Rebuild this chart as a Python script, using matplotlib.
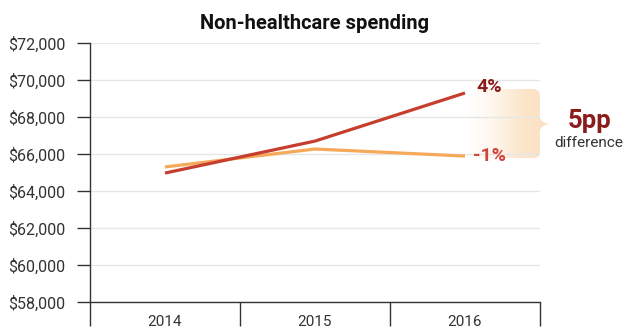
import matplotlib.pyplot as plt
import numpy as np
from matplotlib.path import Path
from matplotlib.patches import PathPatch
from matplotlib.colors import LinearSegmentedColormap
from matplotlib.ticker import FuncFormatter

plt.rcParams['font.family'] = ['Liberation Sans Narrow', 'Roboto', 'DejaVu Sans']

years = ['2014', '2015', '2016']
spend_a = [64970, 66700, 69300]   # dark red series
spend_b = [65300, 66270, 65890]   # orange series
label_a = '4%'
label_b = '-1%'

dark_red = '#c73e2e'
orange = '#f7a95a'

fig = plt.figure(figsize=(6.25, 3.31), dpi=100)
ax = fig.add_axes([0.144, 0.0876, 0.72, 0.7824])

x = np.arange(len(years))
ax.plot(x, spend_b, color=orange, lw=2.3, solid_capstyle='butt', zorder=3)
ax.plot(x, spend_a, color=dark_red, lw=2.3, solid_capstyle='butt', zorder=4)

ax.set_xlim(-0.5, 2.5)
ax.set_ylim(58000, 72000)
ax.set_yticks(np.arange(58000, 72001, 2000))
ax.yaxis.set_major_formatter(FuncFormatter(lambda v, p: '${:,.0f}'.format(v)))
ax.grid(axis='y', color='#e6e6e6', lw=1)
ax.set_axisbelow(True)

ax.set_xticks(x)
ax.set_xticklabels(years)
ax.set_xticks([-0.5, 0.5, 1.5, 2.5], minor=True)
ax.tick_params(axis='x', which='major', length=0, pad=9, labelsize=11, colors='#333333')
ax.tick_params(axis='x', which='minor', length=17, width=1, color='#333333')
ax.tick_params(axis='y', length=9.5, width=1, pad=8, labelsize=11.5, colors='#333333')

for s in ['top', 'right']:
    ax.spines[s].set_visible(False)
for s in ['left', 'bottom']:
    ax.spines[s].set_color('#333333')
    ax.spines[s].set_linewidth(1)

ax.set_title('Non-healthcare spending', fontsize=14.5, fontweight='bold', color='#111111', pad=10)

ax.annotate(label_a, (x[-1], spend_a[-1]), xytext=(8, 4), textcoords='offset points',
            ha='left', va='center', fontsize=14, fontweight='bold', color='#8b1c1c')
ax.annotate(label_b, (x[-1], spend_b[-1]), xytext=(6, 0), textcoords='offset points',
            ha='left', va='center', fontsize=14, fontweight='bold', color='#d0453a')

# brace-shaped gradient band between the two end labels
ov = fig.add_axes([0, 0, 1, 1], zorder=-1)
ov.set_xlim(0, 625)
ov.set_ylim(331, 0)
ov.axis('off')
verts = [(468, 89), (533, 89), (540, 89), (540, 96), (540, 116), (540, 124), (552, 124),
         (540, 124), (540, 132), (540, 151), (540, 158), (533, 158), (468, 158), (468, 89)]
codes = [Path.MOVETO, Path.LINETO, Path.CURVE3, Path.CURVE3, Path.LINETO, Path.CURVE3, Path.CURVE3,
         Path.CURVE3, Path.CURVE3, Path.LINETO, Path.CURVE3, Path.CURVE3, Path.LINETO, Path.CLOSEPOLY]
patch = PathPatch(Path(verts, codes), facecolor='none', edgecolor='none')
ov.add_patch(patch)
cmap = LinearSegmentedColormap.from_list('fade', ['#ffffff', '#fef6ec', '#fce6cc', '#fbe0c2'])
grad = np.linspace(0, 1, 256).reshape(1, -1)
im = ov.imshow(grad, cmap=cmap, extent=[468, 548, 158, 89], aspect='auto', interpolation='bilinear')
im.set_clip_path(patch)
ax.patch.set_alpha(0)

fig.text(590 / 625, 1 - 121 / 331, '5pp', ha='center', va='center', fontsize=18.5,
         fontweight='bold', color='#8b1c1c')
fig.text(589 / 625, 1 - 143 / 331, 'difference', ha='center', va='center', fontsize=11,
         color='#333333')

fig.savefig('out.png', dpi=100)
